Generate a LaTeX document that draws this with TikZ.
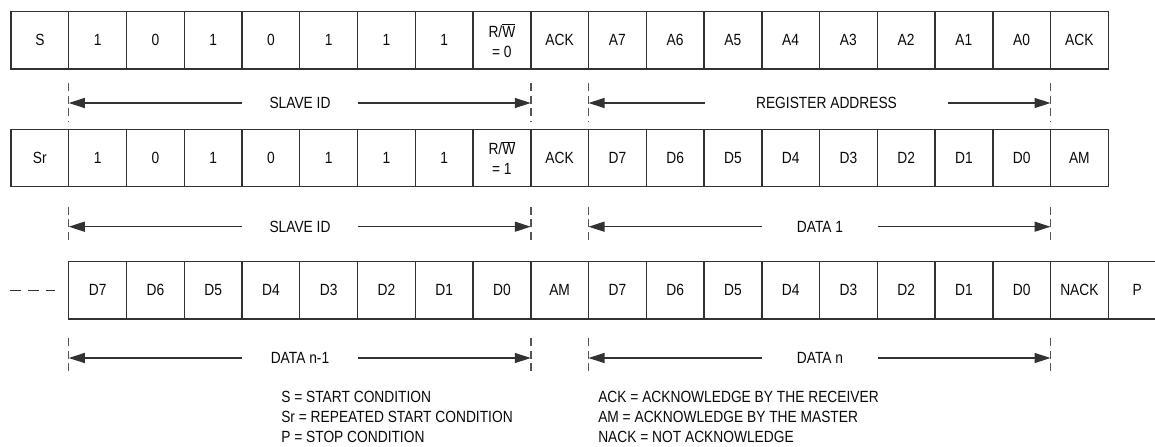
\documentclass[tikz,border=0pt]{standalone}
\usepackage{fontspec}
\setmainfont{Liberation Sans}[FakeStretch=0.85]
\usepackage{xcolor}
\usepackage{tikz}
\usetikzlibrary{arrows.meta, positioning}
\definecolor{lineDark}{RGB}{50, 50, 50}
\definecolor{textDark}{RGB}{10, 10, 10}
\definecolor{guideGray}{RGB}{85, 85, 85}

\begin{document}
\begin{tikzpicture}[x=0.75pt, y=-0.75pt, every node/.style={font=\fontsize{12.15}{15}\selectfont, text=textDark},
    cell/.style={draw=lineDark, line width=1.1pt, inner sep=0pt, outer sep=0pt, minimum width=43.3pt, minimum height=43.1pt, align=center},
    span/.style={inner sep=0pt, outer sep=0pt, minimum height=12pt},
    arr/.style={-{Triangle[length=12pt, width=7.5pt]}, lineDark, line width=1pt},
    guide/.style={guideGray, line width=1.1pt, dash pattern=on 6pt off 3.5pt}]
    \clip (0,0) rectangle (1155,446);
    % Frame 1 - slave ID + write, register address
    \foreach \t [count=\i] in {S,1,0,1,0,1,1,1,{R/$\overline{\mbox{W}}$\\= 0},ACK,A7,A6,A5,A4,A3,A2,A1,A0,ACK}
      \node[cell] (a\i) at ({11+(\i-0.5)*57.75}, 40.2) {\t};
    % Frame 2 - repeated start, slave ID + read, first data byte
    \foreach \t [count=\i] in {Sr,1,0,1,0,1,1,1,{R/$\overline{\mbox{W}}$\\= 1},ACK,D7,D6,D5,D4,D3,D2,D1,D0,AM}
      \node[cell] (b\i) at ({11+(\i-0.5)*57.75}, 158) {\t};
    % Frame 3 - last data bytes
    \foreach \t [count=\i] in {D7,D6,D5,D4,D3,D2,D1,D0,AM,D7,D6,D5,D4,D3,D2,D1,D0,NACK,P}
      \node[cell] (c\i) at ({68.75+(\i-0.5)*57.75}, 290.3) {\t};
    \draw[lineDark, line width=1pt, dash pattern=on 8.6pt off 4.9pt] (c1.west) ++(-58.75,0) -- ++(45,0);
    % Span labels
    \node[span, minimum width=87pt] (sid1) at (300, 103) {SLAVE ID};
    \node[span, minimum width=182.3pt] (reg) at (826.5, 103) {REGISTER ADDRESS};
    \node[span, minimum width=87pt] (sid2) at (300, 226.7) {SLAVE ID};
    \node[span, minimum width=87pt] (dat1) at (820, 226.7) {DATA 1};
    \node[span, minimum width=87pt] (datm) at (300, 358) {DATA n-1};
    \node[span, minimum width=87pt] (datn) at (820, 358) {DATA n};
    % Span arrows
    \draw[arr] (sid1.west) -- (sid1.west -| a2.west);
    \draw[arr] (sid1.east) -- (sid1.east -| a10.west);
    \draw[arr] (reg.west) -- (reg.west -| a11.west);
    \draw[arr] (reg.east) -- (reg.east -| a19.west);
    \draw[arr] (sid2.west) -- (sid2.west -| b2.west);
    \draw[arr] (sid2.east) -- (sid2.east -| b10.west);
    \draw[arr] (dat1.west) -- (dat1.west -| b11.west);
    \draw[arr] (dat1.east) -- (dat1.east -| b19.west);
    \draw[arr] (datm.west) -- (datm.west -| c1.west);
    \draw[arr] (datm.east) -- (datm.east -| c9.west);
    \draw[arr] (datn.west) -- (datn.west -| c10.west);
    \draw[arr] (datn.east) -- (datn.east -| c18.west);
    % Guide lines
    \foreach \n in {a2,a10,a11,a19}
      \draw[guide] (sid1.center -| \n.west) ++(0,-20) -- ++(0,39);
    \foreach \n in {b2,b10,b11,b19}
      \draw[guide] (sid2.center -| \n.west) ++(0,-20) -- ++(0,37);
    \foreach \n in {c1,c9,c10,c18}
      \draw[guide] (datm.center -| \n.west) ++(0,-20) -- ++(0,38);
    % Legend
    \node[align=left, anchor=west, inner sep=0pt] (legl) at (281, 417) {S = START CONDITION\\Sr = REPEATED START CONDITION\\P = STOP CONDITION};
    \node[align=left, anchor=west, inner sep=0pt] (legr) at (598, 417) {ACK = ACKNOWLEDGE BY THE RECEIVER\\AM = ACKNOWLEDGE BY THE MASTER\\NACK = NOT ACKNOWLEDGE};
  \end{tikzpicture}
\end{document}
